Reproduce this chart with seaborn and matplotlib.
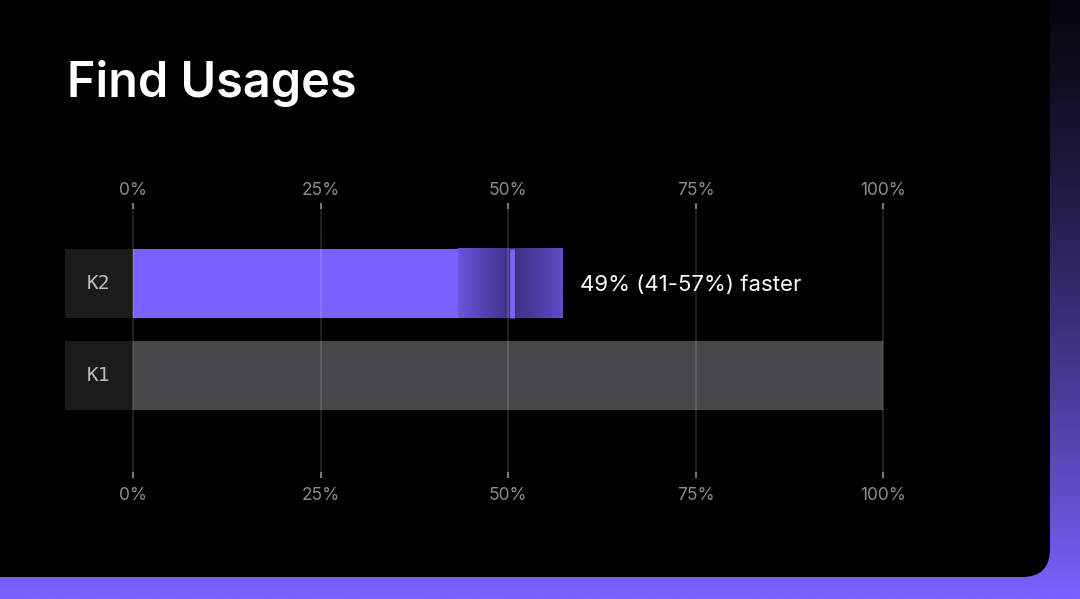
import numpy as np
import pandas as pd
import seaborn as sns
import matplotlib.pyplot as plt
import matplotlib.transforms as mtransforms
from matplotlib.patches import FancyBboxPatch
from matplotlib.colors import to_rgb

# data (K2 time relative to K1, %)
engines = ["K2", "K1"]
ci_low = [43.3, 100]
mean_val = [50.5, 100]
ci_high = [57.2, 100]
ticks = [0, 25, 50, 75, 100]
tick_labels = ["0%", "25%", "50%", "75%", "100%"]
note = "49% (41-57%) faster"
title = "Find Usages"

purple = "#7B61FF"
gray_bar = "#474749"
label_bg = "#1b1b1b"

df = pd.DataFrame({"engine": engines, "low": ci_low, "mean": mean_val, "high": ci_high})

sns.set_theme(style="dark")
plt.rcParams["font.family"] = ["Inter", "DejaVu Sans"]

fig = plt.figure(figsize=(10.8, 5.99), dpi=100)
W, H = 1080, 599

# background: purple gradient with a black rounded panel on top
bg = fig.add_axes([0, 0, 1, 1])
bg.set_xlim(0, W)
bg.set_ylim(H, 0)
bg.axis("off")
t = np.linspace(0, 1, 256)[:, None] ** 1.3
c0 = np.array(to_rgb("#08070f"))
c1 = np.array(to_rgb(purple))
grad = c0 + (c1 - c0) * t[..., None]
grad = np.repeat(grad, 2, axis=1)
bg.imshow(grad, extent=(0, W, H, 0), aspect="auto", zorder=0)
bg.add_patch(FancyBboxPatch((-60, -60), 1050 + 60, 577 + 60,
                            boxstyle="round,pad=0,rounding_size=28",
                            fc="black", ec="none", zorder=1))
bg.text(67, 97, title, color="white", fontsize=35, fontweight="semibold",
        ha="left", va="baseline")

# main chart axes: 7.5 px per percent, 0% at x=133
px = 7.5
xmin, xmax = -9.07, 101
left = 133 + xmin * px
ax = fig.add_axes([left / W, 1 - 478 / H, (xmax - xmin) * px / W, (478 - 203) / H])
ax.set_facecolor("none")

sns.barplot(data=df, y="engine", x="low", hue="engine", palette=[purple, gray_bar],
            width=0.75, dodge=False, legend=False, ax=ax, saturation=1)
for p in ax.patches:
    p.set_edgecolor("none")
    p.set_linewidth(0)

# label boxes on the left
ax.barh(range(len(engines)), [-xmin] * len(engines), left=xmin, height=0.75,
        color=label_bg, edgecolor="none", linewidth=0, zorder=1)
for i, name in enumerate(engines):
    ax.text(xmin / 2, i, name, color="#bdbdbd", fontsize=14, ha="center", va="center",
            family="DejaVu Sans Mono", zorder=4)

# confidence band for K2 as a gradient + mean marker
for i, row in df.iterrows():
    if row["high"] <= row["low"]:
        continue
    xs = np.linspace(row["low"], row["high"], 300)
    a = np.where(xs <= row["mean"],
                 0.87 - 0.37 * (xs - row["low"]) / (row["mean"] - row["low"]),
                 0.50 + 0.28 * (xs - row["mean"]) / (row["high"] - row["mean"]))
    img = np.zeros((1, len(xs), 4))
    img[..., :3] = to_rgb(purple)
    img[..., 3] = a
    ax.imshow(img, extent=(row["low"], row["high"], i + 0.375, i - 0.375),
              aspect="auto", zorder=1.5, interpolation="bilinear")
    ax.plot([row["mean"]] * 2, [i - 0.375, i + 0.375], color=purple, lw=3.5,
            solid_capstyle="butt", zorder=3)
    ax.text(row["high"] + 2.4, i + 0.02, note, color="white", fontsize=16,
            ha="left", va="center")

ax.set_xlim(xmin, xmax)
ax.set_ylim(2.114, -0.875)
ax.set_xticks(ticks)
ax.set_xticklabels(tick_labels)
ax.set_yticks([])
ax.set_xlabel("")
ax.set_ylabel("")
ax.tick_params(axis="x", which="both", top=True, bottom=True, labeltop=True,
               labelbottom=True, direction="in", length=4, width=1.5,
               color="#777777", labelcolor="#8c8c8c", labelsize=12.5, pad=5)
# nudge both rows of labels down a little
shift = mtransforms.ScaledTranslation(0, -2.5 / 100, fig.dpi_scale_trans)
for tk in ax.xaxis.get_major_ticks():
    tk.label1.set_transform(tk.label1.get_transform() + shift)
    tk.label2.set_transform(tk.label2.get_transform() + shift)
ax.grid(axis="x", color="white", alpha=0.15, lw=1.2)
ax.grid(axis="y", visible=False)
ax.set_axisbelow(False)
for s in ax.spines.values():
    s.set_visible(False)

fig.savefig("out.png", dpi=100, facecolor="black")
